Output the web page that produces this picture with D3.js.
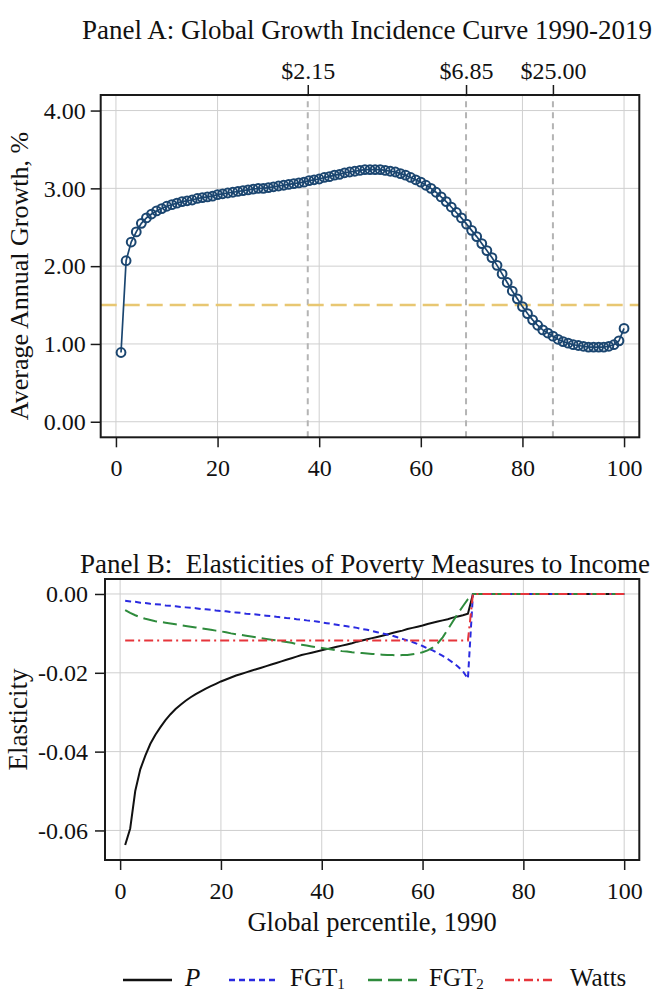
<!DOCTYPE html>
<html>
<head>
<meta charset="utf-8">
<script src="https://cdn.jsdelivr.net/npm/d3@7"></script>
<style>
  html, body { margin: 0; padding: 0; background: #fff; }
  svg { display: block; }
  text { font-family: "Liberation Serif", "Times New Roman", serif; fill: #111; }
</style>
</head>
<body>
<svg id="chart" width="660" height="994"></svg>
<script>
// ---- Panel A: average annual growth by 1990 global percentile (1..100) ----
const percentile = d3.range(1, 101);
const growth = [
  0.89, 2.07, 2.31, 2.44, 2.55, 2.62, 2.67, 2.71, 2.74, 2.77,
  2.79, 2.81, 2.83, 2.84, 2.85, 2.87, 2.88, 2.89, 2.90, 2.92,
  2.93, 2.94, 2.95, 2.96, 2.97, 2.98, 2.99, 3.00, 3.00, 3.01,
  3.02, 3.03, 3.04, 3.05, 3.06, 3.07, 3.08, 3.10, 3.11, 3.12,
  3.14, 3.15, 3.17, 3.18, 3.20, 3.21, 3.22, 3.23, 3.24, 3.24,
  3.24, 3.24, 3.23, 3.22, 3.21, 3.19, 3.17, 3.14, 3.11, 3.08,
  3.04, 3.00, 2.95, 2.89, 2.83, 2.76, 2.69, 2.62, 2.54, 2.46,
  2.38, 2.29, 2.20, 2.11, 2.01, 1.90, 1.79, 1.68, 1.58, 1.48,
  1.39, 1.31, 1.24, 1.18, 1.14, 1.10, 1.06, 1.03, 1.01, 0.99,
  0.98, 0.97, 0.96, 0.96, 0.96, 0.96, 0.97, 0.99, 1.04, 1.20
];
const meanGrowth = 1.5;
const povertyLines = ["$2.15", "$6.85", "$25.00"];
const povertyLinePct = [37.75, 68.9, 86.0];
const growthTicks = [0, 1, 2, 3, 4];
const pctTicks = [0, 20, 40, 60, 80, 100];

// ---- Panel B: elasticities of poverty measures to income ----
const zeros30 = new Array(30).fill(0);
const elastP = [
  -0.0637, -0.0595, -0.0500, -0.0445, -0.0410, -0.0380, -0.0357, -0.0338, -0.0320, -0.0305,
  -0.0292, -0.0281, -0.0271, -0.0262, -0.0254, -0.0247, -0.0240, -0.0234, -0.0228, -0.0222,
  -0.0217, -0.0212, -0.0207, -0.0203, -0.0199, -0.0195, -0.0191, -0.0187, -0.0183, -0.0179,
  -0.0175, -0.0171, -0.0167, -0.0163, -0.0159, -0.0155, -0.0152, -0.0149, -0.0146, -0.0143,
  -0.0140, -0.0137, -0.0134, -0.0131, -0.0128, -0.0125, -0.0121, -0.0118, -0.0115, -0.0112,
  -0.0109, -0.0106, -0.0103, -0.0099, -0.0096, -0.0093, -0.0089, -0.0086, -0.0083, -0.0080,
  -0.0076, -0.0073, -0.0070, -0.0067, -0.0064, -0.0060, -0.0057, -0.0054, -0.0050, 0
].concat(zeros30);
const elastFGT1 = [
  -0.0017, -0.0019, -0.0020, -0.0022, -0.0023, -0.0025, -0.0026, -0.0027, -0.0029, -0.0030,
  -0.0031, -0.0033, -0.0034, -0.0035, -0.0036, -0.0038, -0.0039, -0.0040, -0.0042, -0.0043,
  -0.0044, -0.0046, -0.0047, -0.0048, -0.0050, -0.0051, -0.0052, -0.0054, -0.0055, -0.0056,
  -0.0058, -0.0059, -0.0061, -0.0062, -0.0064, -0.0065, -0.0067, -0.0068, -0.0070, -0.0072,
  -0.0074, -0.0076, -0.0078, -0.0080, -0.0082, -0.0084, -0.0086, -0.0089, -0.0091, -0.0094,
  -0.0097, -0.0100, -0.0103, -0.0106, -0.0110, -0.0114, -0.0118, -0.0122, -0.0127, -0.0132,
  -0.0138, -0.0143, -0.0150, -0.0157, -0.0165, -0.0174, -0.0184, -0.0196, -0.0215, 0
].concat(zeros30);
const elastFGT2 = [
  -0.0041, -0.0048, -0.0054, -0.0059, -0.0063, -0.0066, -0.0069, -0.0071, -0.0073, -0.0075,
  -0.0077, -0.0079, -0.0081, -0.0083, -0.0085, -0.0087, -0.0089, -0.0091, -0.0093, -0.0095,
  -0.0097, -0.0100, -0.0102, -0.0104, -0.0106, -0.0108, -0.0110, -0.0112, -0.0114, -0.0116,
  -0.0118, -0.0120, -0.0122, -0.0124, -0.0127, -0.0129, -0.0131, -0.0133, -0.0135, -0.0137,
  -0.0139, -0.0141, -0.0143, -0.0145, -0.0146, -0.0148, -0.0149, -0.0150, -0.0151, -0.0152,
  -0.0153, -0.0154, -0.0155, -0.0155, -0.0156, -0.0155, -0.0155, -0.0153, -0.0151, -0.0148,
  -0.0143, -0.0136, -0.0125, -0.0110, -0.0090, -0.0070, -0.0050, -0.0031, -0.0013, 0
].concat(zeros30);
const elastWatts = new Array(69).fill(-0.0118).concat([0]).concat(zeros30);
const elastTicks = [0, -0.02, -0.04, -0.06];

const seriesB = [
  { name: "P",     values: elastP,     color: "#111111", dash: null,       width: 2 },
  { name: "FGT1",  values: elastFGT1,  color: "#2a2ae0", dash: "6,4",      width: 2 },
  { name: "FGT2",  values: elastFGT2,  color: "#2e8b3c", dash: "14,6",     width: 2 },
  { name: "Watts", values: elastWatts, color: "#e6353b", dash: "9,4,2,4",  width: 2 }
];

const svg = d3.select("#chart");
const gridColor = "#cfcfcf";
const tickFont = 24;

// ---------------- Panel A ----------------
const xA = d3.scaleLinear([-3, 103], [100.7, 639.3]);
const yA = d3.scaleLinear([-0.2, 4.2], [437.3, 95]);
const gA = svg.append("g");

gA.append("text")
  .attr("x", 367).attr("y", 39)
  .attr("text-anchor", "middle")
  .style("font-size", "27px")
  .text("Panel A: Global Growth Incidence Curve 1990-2019");

// gridlines
gA.append("g").selectAll("line").data(pctTicks).join("line")
  .attr("x1", d => xA(d)).attr("x2", d => xA(d))
  .attr("y1", yA.range()[0]).attr("y2", yA.range()[1])
  .attr("stroke", gridColor).attr("stroke-width", 1);
gA.append("g").selectAll("line").data(growthTicks).join("line")
  .attr("y1", d => yA(d)).attr("y2", d => yA(d))
  .attr("x1", xA.range()[0]).attr("x2", xA.range()[1])
  .attr("stroke", gridColor).attr("stroke-width", 1);

// poverty line markers
gA.append("g").selectAll("line").data(povertyLinePct).join("line")
  .attr("x1", d => xA(d)).attr("x2", d => xA(d))
  .attr("y1", yA.range()[0]).attr("y2", yA.range()[1])
  .attr("stroke", "#b4b4b4").attr("stroke-width", 2)
  .attr("stroke-dasharray", "6,5");

// mean growth reference line
gA.append("line")
  .attr("x1", xA.range()[0]).attr("x2", xA.range()[1])
  .attr("y1", yA(meanGrowth)).attr("y2", yA(meanGrowth))
  .attr("stroke", "#e8c772").attr("stroke-width", 2.5)
  .attr("stroke-dasharray", "16,7");

// growth incidence curve
const gicLine = d3.line().x((d, i) => xA(percentile[i])).y(d => yA(d));
gA.append("path").datum(growth)
  .attr("d", gicLine).attr("fill", "none")
  .attr("stroke", "#1b4670").attr("stroke-width", 1.7);
gA.append("g").selectAll("circle").data(growth).join("circle")
  .attr("cx", (d, i) => xA(percentile[i])).attr("cy", d => yA(d))
  .attr("r", 4.4).attr("fill", "none")
  .attr("stroke", "#1b4670").attr("stroke-width", 2);

// frame
gA.append("rect")
  .attr("x", xA.range()[0]).attr("y", yA.range()[1])
  .attr("width", xA.range()[1] - xA.range()[0])
  .attr("height", yA.range()[0] - yA.range()[1])
  .attr("fill", "none").attr("stroke", "#1a1a1a").attr("stroke-width", 2);

function styleAxis(g) {
  g.select(".domain").remove();
  g.selectAll(".tick line").attr("stroke", "#1a1a1a").attr("stroke-width", 1.5);
  g.selectAll(".tick text").style("font-size", tickFont + "px")
    .style("font-family", '"Liberation Serif", "Times New Roman", serif').attr("fill", "#111");
}

// axes
gA.append("g").attr("transform", `translate(${xA.range()[0]},0)`)
  .call(d3.axisLeft(yA).tickValues(growthTicks).tickSize(10).tickPadding(5).tickFormat(d3.format(".2f")))
  .call(styleAxis);
gA.append("g").attr("transform", `translate(0,${yA.range()[0]})`)
  .call(d3.axisBottom(xA).tickValues(pctTicks).tickSize(10).tickFormat(d3.format("d")))
  .call(styleAxis)
  .call(g => g.selectAll(".tick text").attr("y", 39).attr("dy", 0));
gA.append("g").attr("transform", `translate(0,${yA.range()[1]})`)
  .call(d3.axisTop(xA).tickValues(povertyLinePct).tickSize(10)
    .tickFormat((d, i) => povertyLines[i]))
  .call(styleAxis)
  .call(g => g.selectAll(".tick text").attr("y", -16).attr("dy", 0));

gA.append("text")
  .attr("transform", `translate(28,276) rotate(-90)`)
  .attr("text-anchor", "middle")
  .style("font-size", "26px")
  .text("Average Annual Growth, %");

// ---------------- Panel B ----------------
const xB = d3.scaleLinear([-3, 103], [105, 639.3]);
const yB = d3.scaleLinear([-0.0675, 0.0038], [860, 579]);
const gB = svg.append("g");

gB.append("text")
  .attr("x", 365).attr("y", 573)
  .attr("text-anchor", "middle")
  .style("font-size", "27px")
  .style("white-space", "pre")
  .attr("xml:space", "preserve")
  .text("Panel B:  Elasticities of Poverty Measures to Income");

gB.append("g").selectAll("line").data(pctTicks).join("line")
  .attr("x1", d => xB(d)).attr("x2", d => xB(d))
  .attr("y1", yB.range()[0]).attr("y2", yB.range()[1])
  .attr("stroke", gridColor).attr("stroke-width", 1);
gB.append("g").selectAll("line").data(elastTicks).join("line")
  .attr("y1", d => yB(d)).attr("y2", d => yB(d))
  .attr("x1", xB.range()[0]).attr("x2", xB.range()[1])
  .attr("stroke", gridColor).attr("stroke-width", 1);

const elastLine = d3.line().x((d, i) => xB(percentile[i])).y(d => yB(d));
seriesB.forEach(s => {
  gB.append("path").datum(s.values)
    .attr("d", elastLine).attr("fill", "none")
    .attr("stroke", s.color).attr("stroke-width", s.width)
    .attr("stroke-dasharray", s.dash);
});

gB.append("rect")
  .attr("x", xB.range()[0]).attr("y", yB.range()[1])
  .attr("width", xB.range()[1] - xB.range()[0])
  .attr("height", yB.range()[0] - yB.range()[1])
  .attr("fill", "none").attr("stroke", "#1a1a1a").attr("stroke-width", 2);

const fmtElast = d => d3.format(".2f")(d).replace("\u2212", "-");
gB.append("g").attr("transform", `translate(${xB.range()[0]},0)`)
  .call(d3.axisLeft(yB).tickValues(elastTicks).tickSize(10).tickPadding(7).tickFormat(fmtElast))
  .call(styleAxis);
gB.append("g").attr("transform", `translate(0,${yB.range()[0]})`)
  .call(d3.axisBottom(xB).tickValues(pctTicks).tickSize(10).tickFormat(d3.format("d")))
  .call(styleAxis)
  .call(g => g.selectAll(".tick text").attr("y", 39).attr("dy", 0));

gB.append("text")
  .attr("transform", `translate(27,${(yB.range()[0] + yB.range()[1]) / 2}) rotate(-90)`)
  .attr("text-anchor", "middle")
  .style("font-size", "27px")
  .text("Elasticity");

gB.append("text")
  .attr("x", (xB.range()[0] + xB.range()[1]) / 2).attr("y", 931)
  .attr("text-anchor", "middle")
  .style("font-size", "26.5px")
  .text("Global percentile, 1990");

// ---------------- Legend ----------------
const legendItems = [
  { s: seriesB[0], x0: 123, x1: 172, tx: 185, label: "P", italic: true },
  { s: seriesB[1], x0: 229, x1: 278, tx: 290, label: "FGT", sub: "1" },
  { s: seriesB[2], x0: 368, x1: 417, tx: 429, label: "FGT", sub: "2" },
  { s: seriesB[3], x0: 505, x1: 556, tx: 570, label: "Watts" }
];
const legend = svg.append("g");
legendItems.forEach(it => {
  legend.append("line")
    .attr("x1", it.x0).attr("x2", it.x1).attr("y1", 980).attr("y2", 980)
    .attr("stroke", it.s.color).attr("stroke-width", 2.5)
    .attr("stroke-dasharray", it.s.dash);
  const t = legend.append("text")
    .attr("x", it.tx).attr("y", 986)
    .style("font-size", "25px");
  t.append("tspan").style("font-style", it.italic ? "italic" : "normal").text(it.label);
  if (it.sub) {
    t.append("tspan").attr("dy", 3).style("font-size", "15px").text(it.sub);
  }
});
</script>
</body>
</html>
